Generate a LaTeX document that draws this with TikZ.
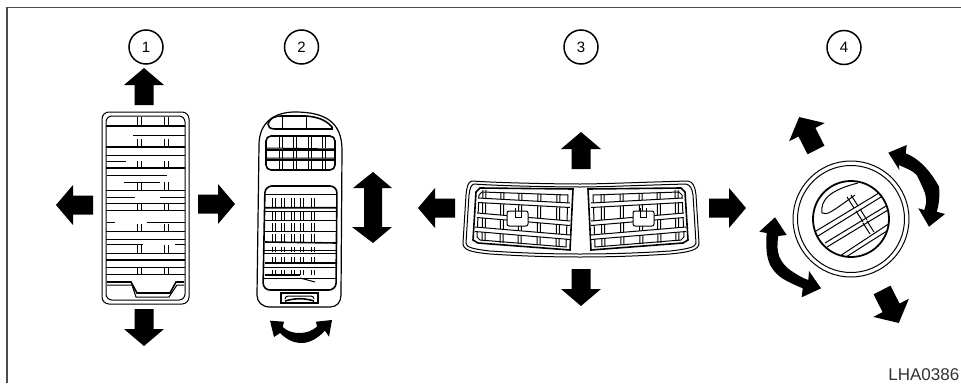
\documentclass[tikz,border=0pt]{standalone}
\usepackage{fontspec}
\setmainfont{Liberation Sans}
\newcommand{\blockarrow}[3]{% base centre x,y ; rotation clockwise (0 = up)
  \fill[black,shift={(#1,#2)},rotate=-#3] (-9.5,0)--(-9.5,-20)--(-20,-20)--(0,-37)--(20,-20)--(9.5,-20)--(9.5,0)--cycle;}
\newcommand{\vslats}[3]{\draw[ln] (#1,#2)--(#1,#3) (#1+4,#2)--(#1+4,#3);}
\tikzset{ln/.style={line width=1pt,black},thk/.style={line width=1.6pt,black},
 numcirc/.style={circle,draw=black,line width=1.5pt,minimum size=34pt,inner sep=0pt,font=\fontsize{15}{15}\selectfont}}
\begin{document}
\begin{tikzpicture}[x=1pt,y=-1pt]
\useasboundingbox (0,0) rectangle (961,383);
\fill[white] (0,0) rectangle (961,383);
\draw[line width=1.6pt,black!70] (961,7.5)--(7,7.5)--(7,383);
\node[anchor=base east,inner sep=0pt,text=black!80,font=\fontsize{17}{17}\selectfont] (code) at (959.5,380.5) {LHA0386};
\node[numcirc] (c1) at (146,47) {1};
\node[numcirc] (c2) at (301.5,47) {2};
\node[numcirc] (c3) at (581,47) {3};
\node[numcirc] (c4) at (844,47.5) {4};
% --- vent 1
\draw[ln,rounded corners=7pt] (102,112) rectangle (189,304);
\draw[ln,rounded corners=6pt] (106,116) rectangle (185,300);
\foreach \y/\a/\b in {135/133/185,155/106/185,161/107/126,175/107/167,182/124/160,190/106/185,197/160/185,197/107/135,203/106/185,210/106/185,222/107/115,222/147/185,231/106/185,239/106/185,244/107/143,244/175/185,253/106/185,267/106/185,274/106/185}
  \draw[ln] (\a,\y)--(\b,\y);
\draw[thk] (106,126)--(185,126) (106,147)--(185,147) (106,168)--(185,168) (106,260)--(185,260);
\foreach \ya/\yb in {117/126,139/147,161/168,182/190,203/210,224/231,245/253,267/274}
 {\vslats{137}{\ya}{\yb}\vslats{164}{\ya}{\yb}}
\draw[thk] (107,282)--(131,282)--(137,293)--(170,293)--(176,282)--(184,282);
\draw[ln] (107,285)--(132,285)--(136,297)--(169,297)--(177,285)--(184,285);
\blockarrow{144}{105}{0}
\blockarrow{144}{309}{180}
\blockarrow{93}{205}{-90}
\blockarrow{198}{204}{90}
% --- vent 2
\draw[line width=1.2pt] (257,295)--(259,145) .. controls (259,122) and (275,112) .. (295,112)
  .. controls (325,112) and (342,122) .. (342,150) -- (341,295) .. controls (341,302) and (337,307) .. (330,307)
  -- (270,307) .. controls (262,307) and (257,302) .. (257,295) -- cycle;
\draw[thk] (268,124) .. controls (270,118) and (274,116) .. (282,116) -- (306,116) .. controls (318,117) and (326,120) .. (332,127)
  -- (332,129) -- (275,129) .. controls (270,129) and (268,127) .. (268,124);
\draw[ln] (282,116)--(282,129) (306,116)--(306,129);
\draw[thk,rounded corners=5pt] (266,136) rectangle (335,170);
\draw[thk] (266,150)--(335,150) (266,160)--(335,160);
\draw[ln] (266,148)--(335,149) (266,158)--(335,158);
\foreach \x in {279,293,308,322} {\foreach \ya/\yb in {137/148,151/158,161/170} {\draw[ln] (\x,\ya)--(\x,\yb) (\x+3,\ya)--(\x+3,\yb);}}
\draw[thk,rounded corners=7pt] (263,290)--(265,186)--(337,186)--(336,290)--cycle;
\foreach \y in {194,211,220,231,250,253,267,278} \draw[ln] (264,\y)--(337,\y);
\draw[thk] (264,207.7)--(337,207.7) (265,242)--(337,243) (265,263)--(337,263) (265,275)--(300,275);
\foreach \x in {272.7,281.7,291,300.7,311} {\foreach \ya/\yb in {198/208,211/220,223/232,234/243,247/252,257/263,270/275} {\draw[ln] (\x,\ya)--(\x,\yb) (\x+3,\ya)--(\x+3,\yb);}}
\draw[ln] (300,278)--(315,282);
\draw[line width=1.4pt] (281,293) rectangle (318,303);
\draw[ln,rounded corners=3pt] (285,299)--(285,296)--(314,296)--(314,299);
\draw[thk] (285,301) .. controls (295,298) and (305,298) .. (314,301);
\fill (364,188)--(353,188)--(373,172)--(392,188)--(382,188)--(382,227)--(392,227)--(373,243)--(352,227)--(364,227)--cycle;
\fill (270,320.7)--(284,321.7)--(282.7,327) .. controls (288,332) and (294,333) .. (300,333) .. controls (306,333) and (312,331) .. (317,326.7) -- (316,321.7) -- (332,320)--(329,336.7)
  --(325,330.7) .. controls (318,338) and (310,343) .. (301.7,343) .. controls (293,343) and (286,339) .. (280,333) -- (274,337)--cycle;
% --- vent 3
\draw[ln] (472,181) .. controls (500,183) and (560,184) .. (580,184) .. controls (600,184) and (650,182) .. (688,181)
  .. controls (693,182) and (695,186) .. (696,195) -- (699,243) .. controls (699,250) and (690,252) .. (670,254)
  .. controls (640,256) and (610,257) .. (580,257) .. controls (550,257) and (520,256) .. (490,254)
  .. controls (470,252) and (463,250) .. (463,243) -- (466,195) .. controls (467,186) and (468,182) .. (472,181) -- cycle;
\draw[ln] (474,184) .. controls (500,186) and (560,187) .. (580,187) .. controls (600,187) and (650,185) .. (686,184)
  .. controls (690,185) and (692,188) .. (693,195) -- (696,243) .. controls (696,247) and (688,249) .. (670,251)
  .. controls (640,253) and (610,254) .. (580,254) .. controls (550,254) and (520,253) .. (490,251)
  .. controls (472,249) and (466,247) .. (466,243) -- (469,195) .. controls (470,188) and (471,185) .. (474,184) -- cycle;
\foreach \s/\o in {1/0,-1/1161} {
\begin{scope}[xshift=\o,xscale=\s]
 \draw[thk] (480,188) -- (573,189) -- (570,250) -- (478,243) -- (473,240) -- (476,192) -- cycle;
 \draw[ln] (482,192) -- (568,195) -- (566,247) -- (480,240) -- (477,237) -- (479,195) -- cycle;
 \foreach \x/\ya/\yb in {483/190/241,501/192/243,519/193/244,538/194/245,557/195/246}
   {\draw[ln] (\x,\ya)--(\x-1,\yb) (\x+3,\ya)--(\x+2,\yb);}
 \foreach \ya/\yb/\xl in {200/205/478,215/223/477,229/237/475} {
   \fill[white] (\xl,\ya-2) -- (570,\yb-2) -- (570,\yb+2.5) -- (\xl,\ya+2.5)--cycle;
   \draw[ln] (\xl,\ya-2) -- (570,\yb-2) (\xl,\ya+2.5) -- (570,\yb+2.5);
 }
 \draw[ln,fill=white,rounded corners=2pt] (507,211) rectangle (528,226);
 \draw[ln] (515,208)--(515,217)--(521,217)--(521,208);
\end{scope}}
\blockarrow{581}{169}{0}
\blockarrow{581}{269}{180}
\blockarrow{455}{208}{-90}
\blockarrow{709}{208}{90}
% --- vent 4
\draw[ln] (851,219) circle (58);
\draw[ln] (851,219) circle (53.5);
\draw[line width=1.8pt] (851,219) circle (38);
\begin{scope}
 \clip (851,219) circle (38);
 \draw[ln] (816,231)--(879,193) (818,236)--(881,197);
 \draw[ln] (825,243)--(886,206) (827,247)--(888,210);
 \draw[ln] (840,256)--(890,223) (846,257)--(890,229);
 \draw[ln] (847,197)--(854,208) (851,195)--(858,206);
 \draw[ln] (856,211)--(863,222) (860,209)--(867,220);
 \draw[ln] (863,223)--(870,234) (867,221)--(874,232);
 \draw[ln] (822,213) .. controls (820,200) and (830,190) .. (858,183) (822,213) .. controls (828,215) and (830,213) .. (855,195);
\end{scope}
\blockarrow{816}{150}{-27}
\blockarrow{882}{290}{153}
\fill (888.3,152.7)--(906.7,145)--(905.7,153.3) .. controls (918,158) and (930,170) .. (939,186.7)
  .. controls (940,195) and (939,205) .. (936.7,211.7) -- (945,214)--(929,226.7)--(918.3,208.3)--(924.3,210)
  .. controls (926,205) and (927,200) .. (925,193.3) .. controls (922,185) and (918,178) .. (916.7,175)
  .. controls (912,170) and (905,168) .. (899,165)--(899.3,170)--cycle;
\fill (775,217.3)--(786.7,235)--(778.3,236) .. controls (777,245) and (777,250) .. (779.3,256.7)
  .. controls (782,263) and (786,267) .. (790,270) .. controls (796,274) and (802,278) .. (808.3,280)
  --(809,271)--(821,288.3)--(801.7,297.3)--(802.7,288.3) .. controls (795,285) and (788,282) .. (781.7,278)
  .. controls (775,273) and (770,267) .. (768.3,260) .. controls (766,252) and (766,243) .. (766.7,233)
  --(759.3,231.7)--cycle;
\end{tikzpicture}
\end{document}
